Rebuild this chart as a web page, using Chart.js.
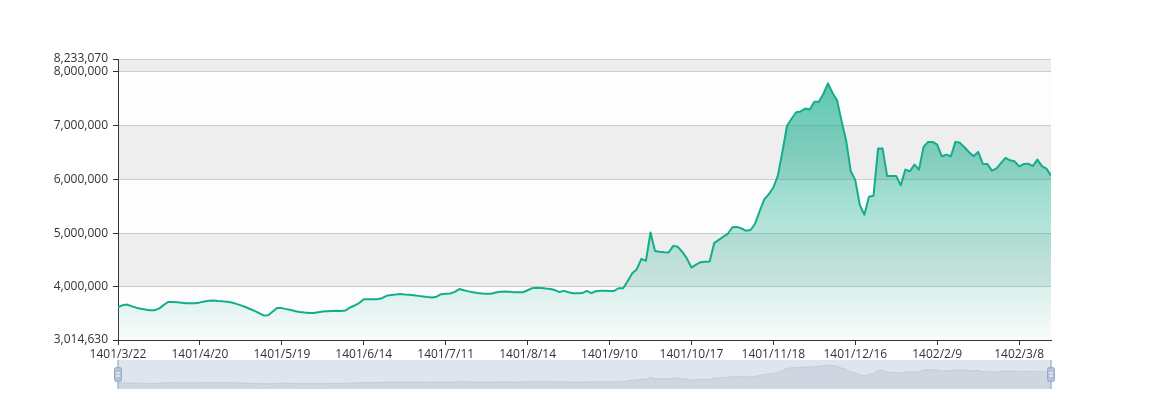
<!DOCTYPE html>
<html>
<head>
<meta charset="utf-8">
<script src="https://cdn.jsdelivr.net/npm/chart.js@4.4.0/dist/chart.umd.min.js"></script>
<style>
    html, body { margin: 0; padding: 0; background: #fff; }
    #wrap { position: relative; width: 1168px; height: 400px; }
    #main { position: absolute; left: 0; top: 0; }
    #zoom { position: absolute; left: 0; top: 354px; }
</style>
</head>
<body>
<div id="wrap">
    <canvas id="main" width="1168" height="400"></canvas>
    <canvas id="zoom" width="1168" height="42"></canvas>
</div>
<script>
// tick labels on the x axis, one every `labelEvery` trading days
var tickLabels = ['1401/3/22', '1401/4/20', '1401/5/19', '1401/6/14', '1401/7/11', '1401/8/14',
    '1401/9/10', '1401/10/17', '1401/11/18', '1401/12/16', '1402/2/9', '1402/3/8'];
var labelEvery = 18;

// y axis ticks (min, round millions, max)
var yTicks = [3014630, 4000000, 5000000, 6000000, 7000000, 8000000, 8233070];

// daily values
var prices = [
    3622000, 3661000, 3672000, 3642000, 3615000, 3596000, 3581000, 3568000, 3568000, 3598000,
    3663000, 3721000, 3719000, 3715000, 3706000, 3696000, 3696000, 3698000, 3713000, 3730000,
    3745000, 3749000, 3739000, 3732000, 3723000, 3712000, 3685000, 3657000, 3628000, 3590000,
    3555000, 3512000, 3471000, 3475000, 3544000, 3611000, 3607000, 3588000, 3570000, 3549000,
    3536000, 3525000, 3516000, 3518000, 3531000, 3542000, 3549000, 3555000, 3557000, 3555000,
    3564000, 3618000, 3656000, 3700000, 3771000, 3771000, 3771000, 3771000, 3791000, 3836000,
    3849000, 3858000, 3870000, 3860000, 3853000, 3844000, 3834000, 3823000, 3812000, 3803000,
    3818000, 3866000, 3872000, 3879000, 3909000, 3961000, 3937000, 3918000, 3901000, 3888000,
    3879000, 3872000, 3872000, 3896000, 3909000, 3916000, 3912000, 3901000, 3901000, 3901000,
    3939000, 3978000, 3987000, 3980000, 3970000, 3963000, 3942000, 3905000, 3927000, 3901000,
    3883000, 3883000, 3886000, 3926000, 3886000, 3920000, 3927000, 3931000, 3926000, 3925000,
    3976000, 3976000, 4112000, 4255000, 4330000, 4521000, 4484000, 5011000, 4667000, 4652000,
    4644000, 4639000, 4763000, 4745000, 4652000, 4527000, 4359000, 4415000, 4460000, 4466000,
    4471000, 4814000, 4873000, 4933000, 4987000, 5108000, 5115000, 5086000, 5043000, 5058000,
    5179000, 5410000, 5627000, 5724000, 5847000, 6072000, 6516000, 6994000, 7123000, 7245000,
    7260000, 7314000, 7296000, 7439000, 7439000, 7588000, 7780000, 7603000, 7465000, 7074000,
    6713000, 6150000, 5983000, 5518000, 5341000, 5676000, 5694000, 6569000, 6569000, 6058000,
    6058000, 6058000, 5886000, 6179000, 6148000, 6272000, 6179000, 6601000, 6694000, 6694000,
    6644000, 6426000, 6458000, 6426000, 6694000, 6676000, 6594000, 6501000, 6426000, 6508000,
    6290000, 6285000, 6160000, 6197000, 6300000, 6396000, 6352000, 6333000, 6240000, 6281000,
    6290000, 6244000, 6365000, 6244000, 6197000, 6067000
];

var points = prices.map(function(v, i) { return { x: i, y: v }; });
var fmt = new Intl.NumberFormat('en-US');
var axisFont = { family: '"Open Sans", sans-serif', size: 12 };

function areaGradient(context) {
    var area = context.chart.chartArea;
    if (!area) {
        return 'rgba(20,173,140,0.3)';
    }
    var g = context.chart.ctx.createLinearGradient(0, area.top, 0, area.bottom);
    g.addColorStop(0, 'rgba(20,173,140,0.75)');
    g.addColorStop(1, 'rgba(20,173,140,0.02)');
    return g;
}

// alternating background bands between y ticks
var splitBands = {
    id: 'splitBands',
    beforeDraw: function(chart) {
        var ctx = chart.ctx, area = chart.chartArea, y = chart.scales.y;
        ctx.save();
        for (var k = 0; k < yTicks.length - 1; k++) {
            var top = y.getPixelForValue(yTicks[k + 1]);
            var bottom = y.getPixelForValue(yTicks[k]);
            ctx.fillStyle = k % 2 === 0 ? 'rgba(250,250,250,0.3)' : 'rgba(200,200,200,0.3)';
            ctx.fillRect(area.left, top, area.right - area.left, bottom - top);
        }
        ctx.restore();
    }
};

new Chart(document.getElementById('main').getContext('2d'), {
    type: 'line',
    data: {
        datasets: [{
            data: points,
            borderColor: '#14ad8c',
            borderWidth: 2,
            borderJoinStyle: 'round',
            backgroundColor: areaGradient,
            fill: 'start',
            pointRadius: 0,
            tension: 0
        }]
    },
    options: {
        responsive: false,
        animation: false,
        layout: { padding: { left: 0, right: 117, top: 59, bottom: 0 } },
        plugins: {
            legend: { display: false },
            tooltip: { enabled: false }
        },
        scales: {
            x: {
                type: 'linear',
                min: 0,
                max: prices.length - 1,
                afterBuildTicks: function(scale) {
                    scale.ticks = tickLabels.map(function(_, k) { return { value: k * labelEvery }; });
                },
                afterFit: function(scale) { scale.height = 60; },
                ticks: {
                    callback: function(value) { return tickLabels[Math.round(value / labelEvery)]; },
                    color: '#333',
                    font: axisFont,
                    padding: 2,
                    maxRotation: 0,
                    autoSkip: false
                },
                grid: { drawOnChartArea: false, tickLength: 5, tickColor: '#333' },
                border: { color: '#333' }
            },
            y: {
                min: yTicks[0],
                max: yTicks[yTicks.length - 1],
                afterBuildTicks: function(scale) {
                    scale.ticks = yTicks.map(function(v) { return { value: v }; });
                },
                afterFit: function(scale) { scale.width = 118; },
                ticks: {
                    callback: function(value) { return fmt.format(value); },
                    color: '#333',
                    font: axisFont,
                    padding: 5
                },
                grid: { color: '#cccccc', tickLength: 5, tickColor: '#333' },
                border: { color: '#333' }
            }
        }
    },
    plugins: [splitBands]
});

// data zoom slider look-alike under the chart
var sliderFrame = {
    id: 'sliderFrame',
    beforeDraw: function(chart) {
        var ctx = chart.ctx, a = chart.chartArea;
        ctx.save();
        ctx.fillStyle = '#dfe4ee';
        ctx.fillRect(a.left, a.top, a.right - a.left, a.bottom - a.top);
        ctx.restore();
    },
    afterDraw: function(chart) {
        var ctx = chart.ctx, a = chart.chartArea;
        var midY = (a.top + a.bottom) / 2;
        ctx.save();
        [a.left, a.right].forEach(function(x) {
            ctx.strokeStyle = '#a9b8d0';
            ctx.lineWidth = 1.5;
            ctx.beginPath();
            ctx.moveTo(x, a.top);
            ctx.lineTo(x, a.bottom);
            ctx.stroke();

            ctx.fillStyle = '#b4c2d8';
            ctx.strokeStyle = '#97a9c6';
            ctx.lineWidth = 1;
            ctx.beginPath();
            ctx.roundRect(x - 3.5, midY - 7, 7, 14, 2);
            ctx.fill();
            ctx.stroke();

            ctx.strokeStyle = '#ffffff';
            ctx.beginPath();
            ctx.moveTo(x - 2, midY - 1.5);
            ctx.lineTo(x + 2, midY - 1.5);
            ctx.moveTo(x - 2, midY + 1.5);
            ctx.lineTo(x + 2, midY + 1.5);
            ctx.stroke();
        });
        ctx.restore();
    }
};

new Chart(document.getElementById('zoom').getContext('2d'), {
    type: 'line',
    data: {
        datasets: [{
            data: points,
            borderColor: '#c5ccd8',
            borderWidth: 1,
            backgroundColor: '#cfd6e1',
            fill: 'start',
            pointRadius: 0,
            tension: 0
        }]
    },
    options: {
        responsive: false,
        animation: false,
        events: [],
        layout: { padding: { left: 118, right: 117, top: 6, bottom: 7 } },
        plugins: {
            legend: { display: false },
            tooltip: { enabled: false }
        },
        scales: {
            x: { type: 'linear', display: false, min: 0, max: prices.length - 1 },
            y: { display: false, min: 2300000, max: 8920000 }
        }
    },
    plugins: [sliderFrame]
});
</script>
</body>
</html>
